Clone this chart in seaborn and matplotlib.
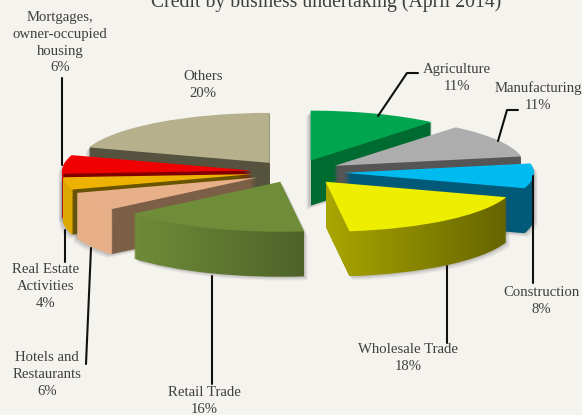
import matplotlib
matplotlib.use('Agg')
import matplotlib.pyplot as plt
from matplotlib.colors import LinearSegmentedColormap
from matplotlib.path import Path
import numpy as np
import seaborn as sns

labels = ['Agriculture', 'Manufacturing', 'Construction', 'Wholesale Trade', 'Retail Trade',
          'Hotels and\nRestaurants', 'Real Estate\nActivities', 'Mortgages,\nowner-occupied\nhousing', 'Others']
values = [11, 11, 8, 18, 16, 6, 4, 6, 20]
top_colors = ['#00a54f', '#adadad', '#00bbf0', '#eeee00', '#6f8c39', '#e8b088', '#eeb200', '#f00000', '#b6b18c']
# left colour, right colour of the side walls
side_colors = [('#006b30', '#006b30'), ('#555555', '#555555'), ('#005a78', '#005a78'),
               ('#aaa600', '#666400'), ('#6f8c39', '#4e6228'), ('#e8b088', '#7c5f47'),
               ('#dca800', '#685400'), ('#e00000', '#800000'), ('#55533f', '#55533f')]
explode = [46, 46, 49, 48, 40, 43, 43, 43, 43]
draw_order = [8, 0, 1, 7, 6, 5, 2, 4, 3]
# which side walls change colour at the radial edge
hard_edge = [5, 6, 7]

# label centre in pixels, then leader line in pixels
label_pos = [(457, 69), (538, 87), (541, 292), (408, 349), (204, 392), (47, 357), (46, 269), (60, 17), (203, 76)]
leaders = [[(378, 116), (407, 73), (418, 73)], [(498, 141), (507, 110), (518, 110)],
           [(533, 176), (533, 283)], [(447, 266), (447, 343)], [(212, 276), (212, 384)],
           [(91, 248), (86, 364)], [(65, 230), (65, 262)], [(62, 78), (62, 165)], []]

squash = 0.263
depth = 45

sns.set_theme(style='white', rc={'figure.facecolor': '#f5f3ee', 'axes.facecolor': '#f5f3ee'})
plt.rcParams['font.family'] = ['Liberation Serif', 'DejaVu Serif']

fig = plt.figure(figsize=(5.82, 4.15), dpi=100)
ax = fig.add_axes([0, 0, 1, 1])
cx, cy = 295, (415 - 172) / squash


def pie_at(dy):
    wedges, _ = ax.pie(values, startangle=90, counterclock=False, explode=explode, radius=190,
                       center=(cx, cy - dy / squash), colors=top_colors,
                       wedgeprops={'linewidth': 0})
    return wedges


top = pie_at(0)
layer_paths = [[] for v in values]
for d in range(1, depth + 1):
    for i, w in enumerate(pie_at(d)):
        layer_paths[i].append(w.get_path())
        w.remove()

for rank, i in enumerate(draw_order):
    wall = Path.make_compound_path(*layer_paths[i])
    x0, x1 = wall.vertices[:, 0].min(), wall.vertices[:, 0].max()
    y0, y1 = wall.vertices[:, 1].min(), wall.vertices[:, 1].max()
    left, right = side_colors[i]
    if i in hard_edge:
        w = top[i]
        edge = w.center[0] + w.r * np.cos(np.radians(w.theta2))
        f = (edge - x0) / (x1 - x0)
        cmap = LinearSegmentedColormap.from_list('w', [(0, left), (f, left), (min(f + 0.005, 1), right), (1, right)], N=512)
    else:
        cmap = LinearSegmentedColormap.from_list('w', [left, right])
    # soft shadow to the side of the block
    for shift, a in [(4, 0.06), (3, 0.08), (2, 0.10), (1, 0.12)]:
        shade = ax.imshow([[0]], cmap=LinearSegmentedColormap.from_list('s', ['#555555', '#555555']),
                          aspect='auto', extent=(x0 - 6, x1 + 6, y0 - 30, y1 + 6),
                          zorder=2 + rank * 2, alpha=a)
        moved = Path(wall.vertices + (shift if i in (2, 3, 4) else -shift, -shift / squash), wall.codes)
        shade.set_clip_path(moved, ax.transData)
    im = ax.imshow(np.linspace(0, 1, 512).reshape(1, -1), cmap=cmap, aspect='auto',
                   extent=(x0, x1, y0, y1), zorder=3 + rank * 2, interpolation='bilinear')
    im.set_clip_path(wall, ax.transData)
    top[i].set_zorder(4 + rank * 2)

ax.set_aspect('auto')
ax.set_xlim(0, 582)
ax.set_ylim(0, 415 / squash)
ax.axis('off')

over = fig.add_axes([0, 0, 1, 1], facecolor='none')
over.set_xlim(0, 582)
over.set_ylim(415, 0)
over.axis('off')
text_color = '#3f3f3f'
over.text(326, 2, 'Credit by business undertaking (April 2014)', ha='center', va='center',
          fontsize=14.2, color=text_color)
for name, v, (x, y), line in zip(labels, values, label_pos, leaders):
    over.text(x, y - 6, name + '\n' + str(v) + '%', ha='center', va='top', fontsize=10.6,
              color=text_color, linespacing=1.38)
    if line:
        over.plot([p[0] for p in line], [p[1] for p in line], color='#101010', lw=1.5)

fig.savefig('out.png', dpi=100, facecolor=fig.get_facecolor())
